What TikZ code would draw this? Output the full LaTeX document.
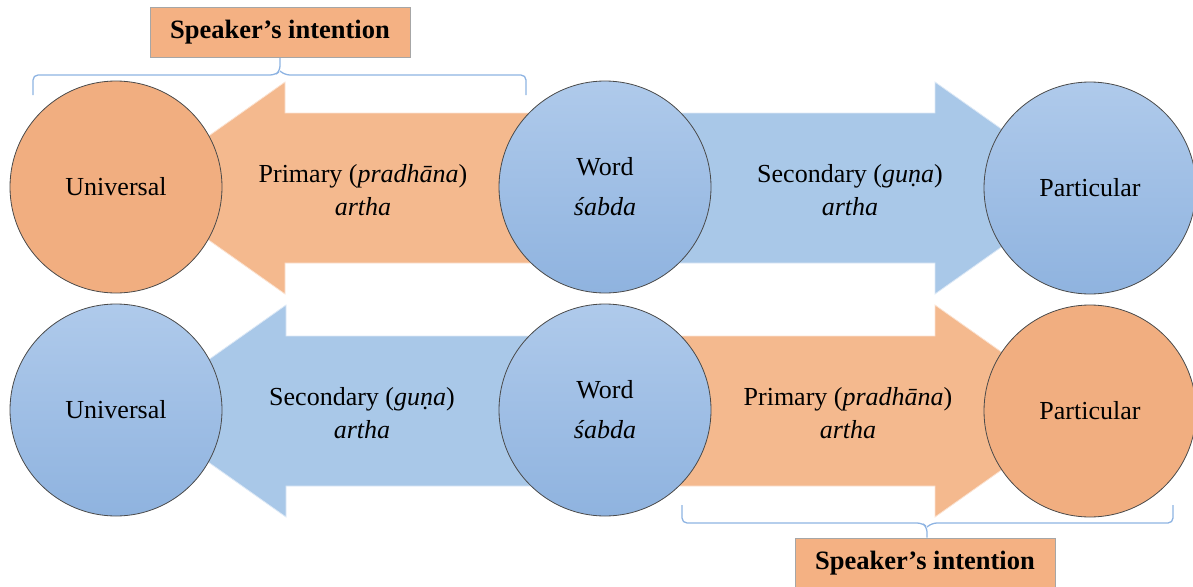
\documentclass[tikz,border=0pt]{standalone}
\usepackage{fontspec}
\setmainfont{Liberation Serif}
\usetikzlibrary{calc}

\definecolor{arrowOrange}{HTML}{F4B98E}
\definecolor{circOrange}{HTML}{F1AE80}
\definecolor{boxOrange}{HTML}{F4B183}
\definecolor{arrowBlue}{HTML}{A9C8E8}
\definecolor{circBlueTop}{HTML}{AFCAEB}
\definecolor{circBlueBot}{HTML}{8FB3DF}
\definecolor{braceBlue}{HTML}{8DB3E2}
\definecolor{rimGray}{HTML}{4A4A4A}

\tikzset{
  bigtext/.style={font=\fontsize{26}{35}\selectfont, align=center},
  disc/.style={circle, minimum size=212pt, inner sep=0pt, draw=rimGray, line width=0.8pt, bigtext},
  discOrange/.style={disc, fill=circOrange},
  discBlue/.style={disc, top color=circBlueTop, bottom color=circBlueBot},
  fatarrow/.style={draw=white!60!#1, line width=0.8pt, fill=#1},
  arrowlabel/.style={bigtext, font=\fontsize{26}{33}\selectfont},
  intentbox/.style={draw=gray!70, line width=0.8pt, fill=boxOrange, inner sep=0pt,
    minimum width=260pt, minimum height=50pt, font=\fontsize{26.5}{30}\selectfont\bfseries},
  bracket/.style={draw=braceBlue, line width=1.3pt, rounded corners=5pt}
}

\begin{document}
\begin{tikzpicture}[x=1pt, y=-1pt]
\useasboundingbox (0,0) rectangle (1193,586);

% ---- upper row: word -> universal is primary, word -> particular is secondary
\path[fatarrow=arrowOrange] (605,113) -- (285,113) -- (285,82) -- (135,188)
  -- (285,294) -- (285,263) -- (605,263) -- cycle;
\path[fatarrow=arrowBlue] (605,113) -- (935,113) -- (935,82) -- (1085,188)
  -- (935,294) -- (935,263) -- (605,263) -- cycle;

% ---- lower row: word -> universal is secondary, word -> particular is primary
\path[fatarrow=arrowBlue] (605,336) -- (286,336) -- (286,305) -- (136,411)
  -- (286,517) -- (286,486) -- (605,486) -- cycle;
\path[fatarrow=arrowOrange] (605,336) -- (935,336) -- (935,305) -- (1085,411)
  -- (935,517) -- (935,486) -- (605,486) -- cycle;

% arrow captions
\node[arrowlabel] (capTL) at (363,190) {Primary (\textit{pradhāna})\\\textit{artha}};
\node[arrowlabel] (capTR) at (850,190) {Secondary (\textit{guṇa})\\\textit{artha}};
\node[arrowlabel] (capBL) at (362,413) {Secondary (\textit{guṇa})\\\textit{artha}};
\node[arrowlabel] (capBR) at (848,413) {Primary (\textit{pradhāna})\\\textit{artha}};

% circles
\node[discOrange] (U1) at (116,187) {Universal};
\node[discBlue, font=\fontsize{26}{40}\selectfont] (W1) at (605,187) {Word\\\textit{śabda}};
\node[discBlue] (P1) at (1090,188) {Particular};

\node[discBlue] (U2) at (116,410) {Universal};
\node[discBlue, font=\fontsize{26}{40}\selectfont] (W2) at (605,410) {Word\\\textit{śabda}};
\node[discOrange] (P2) at (1090,411) {Particular};

% speaker's intention labels
\node[intentbox] (SI1) at (280,32.5) {Speaker’s intention};
\node[intentbox] (SI2) at (925,563) {Speaker’s intention};

% brackets
\coordinate (b1L) at (33,95);
\coordinate (b1M) at (280,75);
\coordinate (b1R) at (526,95);
\draw[bracket] (b1L) |- ($(b1M)+(-5,0)$) -- ($(b1M)+(0,-4)$) -- (SI1.south);
\draw[bracket] ($(b1M)+(0,-4)$) -- ($(b1M)+(5,0)$) -| (b1R);

\coordinate (b2L) at (682,505);
\coordinate (b2M) at (927,523);
\coordinate (b2R) at (1173,505);
\draw[bracket] (b2L) |- ($(b2M)+(-5,0)$) -- ($(b2M)+(0,4)$) -- (SI2.north -| b2M);
\draw[bracket] ($(b2M)+(0,4)$) -- ($(b2M)+(5,0)$) -| (b2R);
\end{tikzpicture}
\end{document}
